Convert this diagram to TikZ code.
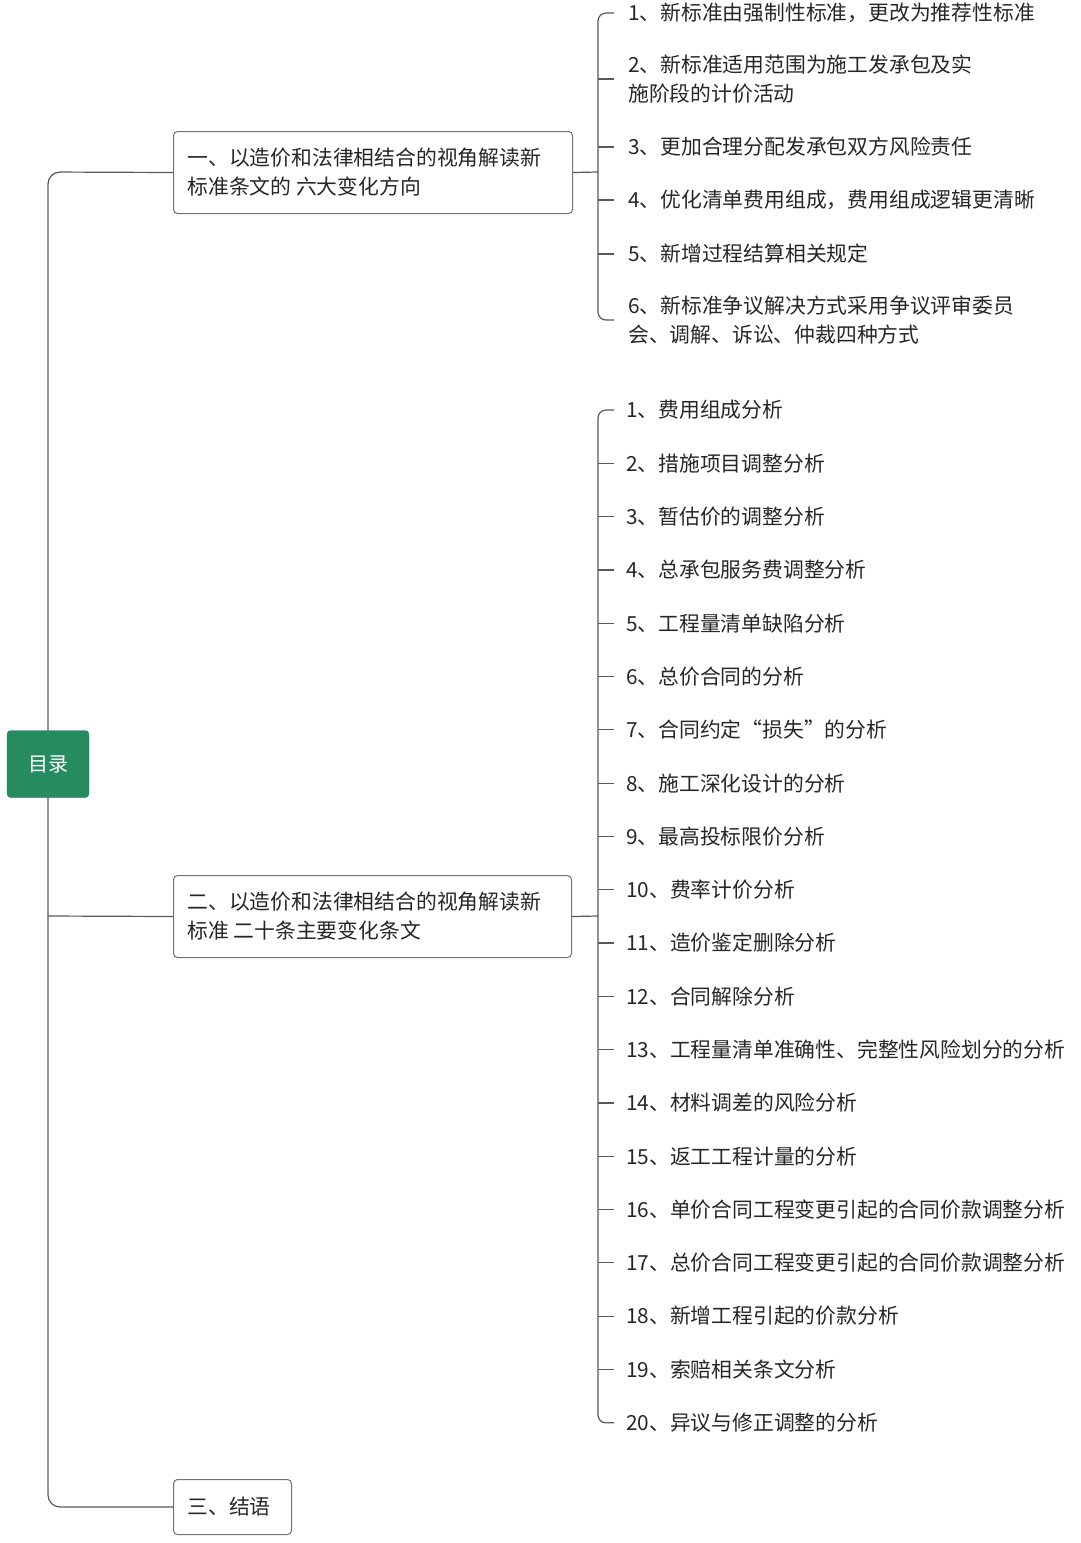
\documentclass[tikz,border=0pt]{standalone}
\usepackage{fontspec}
\setmainfont{Noto Sans CJK SC}
\begin{document}
\begin{tikzpicture}[x=1pt,y=-1pt,
  ln/.style={draw=black!65,line width=1.2pt},
  box/.style={draw=black!55,line width=1pt,rounded corners=4pt,fill=white,anchor=north west,inner sep=0pt},
  item/.style={anchor=west,font=\fontsize{20.8}{28.5}\selectfont,align=left,inner sep=0pt,text=black!85},
  bt/.style={font=\fontsize{20.8}{29}\selectfont,align=left,text=black!85}]
\useasboundingbox (0,0) rectangle (1080,1543);
% boxes
\node[box,minimum width=399pt,minimum height=82pt] (b1) at (173,131) {};
\node[bt,anchor=west] at (184,172) {一、以造价和法律相结合的视角解读新\\标准条文的 六大变化方向};
\node[box,minimum width=398pt,minimum height=82pt] (b2) at (173,875) {};
\node[bt,anchor=west] at (184,916) {二、以造价和法律相结合的视角解读新\\标准 二十条主要变化条文};
\node[box,minimum width=118pt,minimum height=55pt] (b3) at (173,1479) {};
\node[bt,anchor=west] at (184,1507) {三、结语};
% trunk
\coordinate (t2) at (48,916);
\draw[ln,rounded corners=12pt] (b1.west) -- (48,172) -- (48,1507) -- (b3.west);
\draw[ln] (t2) -- (b2.west);
\node[fill={rgb,255:red,38;green,140;blue,95},draw={rgb,255:red,30;green,120;blue,80},rounded corners=4pt,minimum width=82pt,minimum height=67pt,text=white,font=\fontsize{20}{24}\selectfont] (root) at (48,764) {\raisebox{-2pt}{目录}};
% group 1
\foreach \n/\y/\t in {1/13/{1、新标准由强制性标准，更改为推荐性标准},
 2/79/{2、新标准适用范围为施工发承包及实\\施阶段的计价活动},
 3/147/{3、更加合理分配发承包双方风险责任},
 4/200/{4、优化清单费用组成，费用组成逻辑更清晰},
 5/254/{5、新增过程结算相关规定},
 6/320/{6、新标准争议解决方式采用争议评审委员\\会、调解、诉讼、仲裁四种方式}}{
 \node[item] (a\n) at (628,\y) {\t};
 \coordinate (ta\n) at (614,\y);
}
\coordinate (j1) at (598,172);
\draw[ln] (b1.east) -- (j1);
\draw[ln,rounded corners=8pt] (ta1) -- (598,13) -- (598,320) -- (ta6);
\foreach \n in {2,3,4,5}{\draw[ln] (ta\n) -- (598,0 |- ta\n);}
% group 2
\foreach \n/\t [evaluate=\n as \y using 410+53.3*(\n-1)] in {1/费用组成分析,2/措施项目调整分析,3/暂估价的调整分析,4/总承包服务费调整分析,5/工程量清单缺陷分析,6/总价合同的分析,7/合同约定“损失”的分析,8/施工深化设计的分析,9/最高投标限价分析,10/费率计价分析,11/造价鉴定删除分析,12/合同解除分析,13/工程量清单准确性、完整性风险划分的分析,14/材料调差的风险分析,15/返工工程计量的分析,16/单价合同工程变更引起的合同价款调整分析,17/总价合同工程变更引起的合同价款调整分析,18/新增工程引起的价款分析,19/索赔相关条文分析,20/异议与修正调整的分析}{
 \node[item] (c\n) at (626,\y) {\n、\t};
 \coordinate (tc\n) at (614,\y);
}
\draw[ln] (b2.east) -- (598,916);
\draw[ln,rounded corners=8pt] (tc1) -- (598,410) -- (598,1423) -- (tc20);
\foreach \n in {2,...,19}{\draw[ln] (tc\n) -- (598,0 |- tc\n);}
\end{tikzpicture}
\end{document}
